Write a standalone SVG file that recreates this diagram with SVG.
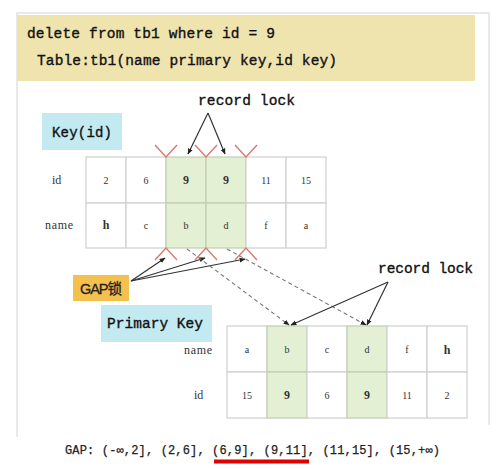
<svg xmlns="http://www.w3.org/2000/svg" width="500" height="469" viewBox="0 0 500 469">
<defs>
<style>
.mono{font-family:"Liberation Mono","DejaVu Sans Mono",monospace;fill:#111;stroke:#111;stroke-width:0.35}
.cell{fill:#fff;stroke:#cfcfcf;stroke-width:1.2}
.g{fill:#e3f0d4;stroke:#c0cdb4;stroke-width:1.2}
.v{font-family:"Liberation Serif","DejaVu Serif",serif;font-size:10px;fill:#333;text-anchor:middle}
.vb{font-family:"Liberation Serif","DejaVu Serif",serif;font-size:12px;font-weight:bold;fill:#333;text-anchor:middle}
.lbl{font-family:"Liberation Serif","DejaVu Serif",serif;font-size:12px;fill:#333}
.red{fill:none;stroke:#d97a6e;stroke-width:1.4}
.arr{stroke:#333;stroke-width:1.2;fill:none;marker-end:url(#ah)}
.dash{stroke:#777;stroke-width:1.1;fill:none;stroke-dasharray:4 3;marker-end:url(#ah)}
</style>
<marker id="ah" viewBox="0 0 10 10" refX="9" refY="5" markerWidth="6" markerHeight="6" orient="auto" markerUnits="userSpaceOnUse">
<path d="M0,1 L10,5 L0,9 z" fill="#222"/>
</marker>
</defs>
<rect width="500" height="469" fill="#fff"/>
<path d="M17,437 V13 H489 V425" fill="none" stroke="#e2e2e2" stroke-width="1.5"/>
<g id="header">
<rect x="17" y="15" width="458" height="66" fill="#efe4ae"/>
<text class="mono" x="27" y="38" font-size="14.5" textLength="248">delete from tb1 where id = 9</text>
<text class="mono" x="37" y="65" font-size="14.5" textLength="300">Table:tb1(name primary key,id key)</text>
</g>
<g id="record-lock-1">
<text class="mono" x="198" y="105" font-size="14.5" textLength="97">record lock</text>
</g>
<g id="key-id">
<rect x="42" y="113" width="80" height="37" fill="#c2eaf0"/>
<text class="mono" x="52" y="137" font-size="14" textLength="60">Key(id)</text>
</g>
<g id="table-key">
<text class="lbl" x="52" y="184">id</text>
<text class="lbl" x="45" y="229" textLength="28">name</text>
<rect class="cell" x="86" y="157" width="40" height="46"/>
<rect class="cell" x="126" y="157" width="40" height="46"/>
<rect class="g" x="166" y="157" width="40" height="46"/>
<rect class="g" x="206" y="157" width="40" height="46"/>
<rect class="cell" x="246" y="157" width="40" height="46"/>
<rect class="cell" x="286" y="157" width="40" height="46"/>
<rect class="cell" x="86" y="203" width="40" height="45"/>
<rect class="cell" x="126" y="203" width="40" height="45"/>
<rect class="g" x="166" y="203" width="40" height="45"/>
<rect class="g" x="206" y="203" width="40" height="45"/>
<rect class="cell" x="246" y="203" width="40" height="45"/>
<rect class="cell" x="286" y="203" width="40" height="45"/>
<text class="v" x="106" y="184">2</text>
<text class="v" x="146" y="184">6</text>
<text class="vb" x="186" y="184">9</text>
<text class="vb" x="226" y="184">9</text>
<text class="v" x="266" y="184">11</text>
<text class="v" x="306" y="184">15</text>
<text class="vb" x="106" y="229">h</text>
<text class="v" x="146" y="229">c</text>
<text class="v" x="186" y="229">b</text>
<text class="v" x="226" y="229">d</text>
<text class="v" x="266" y="229">f</text>
<text class="v" x="306" y="229">a</text>
<path class="red" d="M155,145 L166,157 L177,145 M195,145 L206,157 L217,145 M235,145 L246,157 L257,145"/>
<path class="red" d="M155,260 L166,248 L177,260 M195,260 L206,248 L217,260 M235,260 L246,248 L257,260"/>
</g>
<g id="gap-lock">
<rect x="73" y="275" width="56" height="26" fill="#f4c04e"/>
<text x="80" y="294" font-family="Liberation Sans,'Noto Sans CJK SC',sans-serif" font-size="14.5" fill="#222" stroke="#222" stroke-width="0.3" textLength="42">GAP锁</text>
</g>
<g id="primary-key">
<rect x="101" y="305" width="111" height="37" fill="#c2eaf0"/>
<text class="mono" x="107" y="328" font-size="14.5" textLength="96">Primary Key</text>
</g>
<g id="record-lock-2">
<text class="mono" x="378" y="273" font-size="14.5" textLength="95">record lock</text>
</g>
<g id="table-primary">
<text class="lbl" x="184" y="354" textLength="28">name</text>
<text class="lbl" x="194" y="399">id</text>
<rect class="cell" x="227" y="326" width="40" height="46"/>
<rect class="g" x="267" y="326" width="40" height="46"/>
<rect class="cell" x="307" y="326" width="40" height="46"/>
<rect class="g" x="347" y="326" width="40" height="46"/>
<rect class="cell" x="387" y="326" width="40" height="46"/>
<rect class="cell" x="427" y="326" width="40" height="46"/>
<rect class="cell" x="227" y="372" width="40" height="46"/>
<rect class="g" x="267" y="372" width="40" height="46"/>
<rect class="cell" x="307" y="372" width="40" height="46"/>
<rect class="g" x="347" y="372" width="40" height="46"/>
<rect class="cell" x="387" y="372" width="40" height="46"/>
<rect class="cell" x="427" y="372" width="40" height="46"/>
<text class="v" x="247" y="353">a</text>
<text class="v" x="287" y="353">b</text>
<text class="v" x="327" y="353">c</text>
<text class="v" x="367" y="353">d</text>
<text class="v" x="407" y="353">f</text>
<text class="vb" x="447" y="354">h</text>
<text class="v" x="247" y="399">15</text>
<text class="vb" x="287" y="399">9</text>
<text class="v" x="327" y="399">6</text>
<text class="vb" x="367" y="399">9</text>
<text class="v" x="407" y="399">11</text>
<text class="v" x="447" y="399">2</text>
</g>
<g id="connectors">
<path class="arr" d="M208,113 L188,154"/>
<path class="arr" d="M208,113 L225,154"/>
<path class="arr" d="M131,281 L165,258"/>
<path class="arr" d="M131,281 L205,258"/>
<path class="arr" d="M131,281 L245,259"/>
<path class="dash" d="M187,249 L289,325"/>
<path class="dash" d="M227,249 L366,325"/>
<path class="arr" d="M388,282 L291,325"/>
<path class="arr" d="M388,282 L367,325"/>
</g>
<g id="footer">
<text x="65" y="454" font-family="Liberation Mono,'Noto Sans CJK SC',monospace" font-size="12" fill="#222" stroke="#222" stroke-width="0.25" textLength="375">GAP: (-∞,2], (2,6], (6,9], (9,11], (11,15], (15,+∞)</text>
<rect x="214" y="459.5" width="95" height="4" fill="#e00000"/>
</g>
</svg>
